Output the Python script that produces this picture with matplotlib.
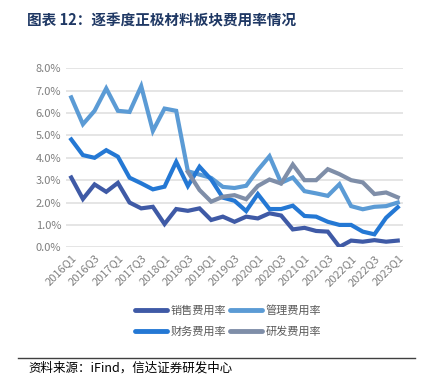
import matplotlib

matplotlib.use("Agg")
import matplotlib.pyplot as plt
import numpy as np
from matplotlib.lines import Line2D
from matplotlib.ticker import FuncFormatter

plt.rcParams["font.family"] = ["Noto Sans CJK SC", "DejaVu Sans"]

quarters = [f"{y}Q{q}" for y in range(2016, 2024) for q in range(1, 5)][:29]

sales = [3.12, 2.16, 2.81, 2.48, 2.88, 2.00, 1.74, 1.81, 1.04, 1.71,
         1.63, 1.74, 1.22, 1.37, 1.14, 1.37, 1.29, 1.52, 1.42, 0.80,
         0.87, 0.73, 0.70, 0.02, 0.30, 0.25, 0.32, 0.25, 0.30]
admin = [6.70, 5.50, 6.10, 7.10, 6.10, 6.05, 7.20, 5.20, 6.20, 6.10,
         3.40, 3.25, 3.10, 2.70, 2.65, 2.75, 3.45, 4.07, 2.88, 3.12,
         2.51, 2.41, 2.30, 2.82, 1.84, 1.70, 1.81, 1.84, 2.00]
finance = [4.82, 4.12, 4.00, 4.34, 4.05, 3.11, 2.86, 2.59, 2.71, 3.82,
           2.74, 3.60, 3.03, 2.22, 2.08, 1.62, 2.38, 1.71, 1.71, 1.86,
           1.40, 1.37, 1.14, 1.00, 1.00, 0.70, 0.58, 1.32, 1.79]
rnd = [np.nan] * 10 + [3.37, 2.56, 2.04, 2.26, 2.33, 2.15, 2.74, 3.03, 2.85, 3.70,
                       3.00, 3.00, 3.49, 3.27, 3.00, 2.90, 2.38, 2.45, 2.23]

series = [
    ("销售费用率", sales, "#3F5AA6"),
    ("管理费用率", admin, "#5B9BD5"),
    ("财务费用率", finance, "#2478D4"),
    ("研发费用率", rnd, "#7F8EA8"),
]

W, H = 431, 389
fig = plt.figure(figsize=(W / 100, H / 100), dpi=100)
ax = fig.add_axes([66 / W, 1 - 247.3 / H, (403 - 66) / W, (247.3 - 68.3) / H])

x = np.arange(len(quarters))
for name, vals, color in series:
    ax.plot(x, vals, color=color, linewidth=3.0, solid_joinstyle="miter")

ax.set_xlim(-0.45, len(quarters) - 0.55)
ax.set_ylim(0, 8)
ax.set_yticks(np.arange(0, 9, 1))
ax.yaxis.set_major_formatter(FuncFormatter(lambda v, _: f"{v:.1f}%"))
ax.set_xticks(x[::2])
ax.set_xticklabels(quarters[::2], rotation=45, ha="right", rotation_mode="anchor")
ax.tick_params(axis="both", length=0, colors="#7F7F7F", labelsize=8)
ax.tick_params(axis="x", pad=4)
ax.grid(axis="y", color="#E0E0E0", linewidth=1.2)
ax.set_axisbelow(True)
for s in ax.spines.values():
    s.set_visible(False)

# legend fills column-wise: reorder so rows read 销售/管理, 财务/研发
order = [0, 2, 1, 3]
handles = [Line2D([], [], color=series[i][2], linewidth=3.5, solid_capstyle="round") for i in order]
labels = [series[i][0] for i in order]
fig.legend(handles, labels, ncol=2, loc="center",
           bbox_to_anchor=(228 / W, 1 - 321 / H), frameon=False, fontsize=8,
           handlelength=2.9, handletextpad=0.3, columnspacing=0.3,
           labelspacing=0.9, labelcolor="#595959")

fig.text(27 / W, 1 - 20 / H, "图表 12：逐季度正极材料板块费用率情况", fontsize=10.5,
         fontweight="bold", color="#1F3864", va="center", ha="left")
fig.add_artist(Line2D([18 / W, 415 / W], [1 - 358 / H, 1 - 358 / H], color="#404040", linewidth=1.0))
fig.text(28 / W, 1 - 368 / H, "资料来源：iFind，信达证券研发中心", fontsize=9,
         style="italic", color="#000000", va="center", ha="left")

fig.savefig("out.png", dpi=100)
